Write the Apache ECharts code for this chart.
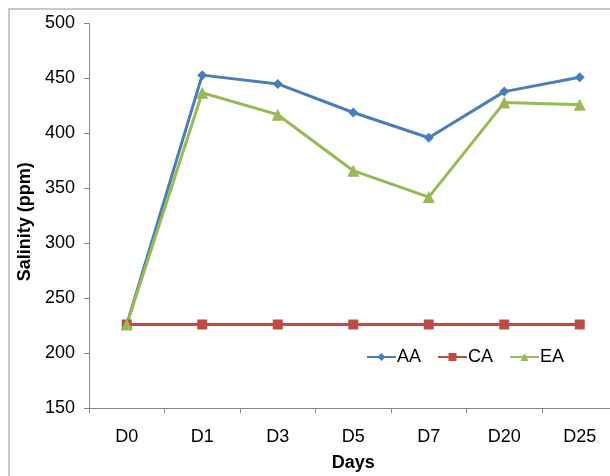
<!DOCTYPE html>
<html><head><meta charset="utf-8">
<script src="https://cdn.jsdelivr.net/npm/echarts@6/dist/echarts.min.js"></script>
<style>html,body{margin:0;padding:0;background:#fff;}#c{width:610px;height:476px;}</style>
</head><body><div id="c"></div>
<script>
const categories = ['D0','D1','D3','D5','D7','D20','D25'];
const seriesAA = [226, 453, 445, 419, 396, 438, 451];
const seriesCA = [226, 226, 226, 226, 226, 226, 226];
const seriesEA = [226, 437, 417, 366, 342, 428, 426];
const yTicks = {min: 150, max: 500, interval: 50};

const chart = echarts.init(document.getElementById('c'), null, {renderer: 'canvas'});
const font = 'Liberation Sans, Arial, sans-serif';
function mk(name, data, color, symbol, size) {
  return {name, type: 'line', data, symbol, symbolSize: size,
    lineStyle: {color, width: 3}, itemStyle: {color}, animation: false};
}
chart.setOption({
  animation: false,
  graphic: [{type: 'rect', shape: {x: 9, y: 9, width: 700, height: 600},
    style: {fill: 'none', stroke: '#b8b8b8', lineWidth: 1.5}, silent: true}],
  grid: {left: 89, top: 23.5, width: 528.5, bottom: 68, containLabel: false, outerBoundsMode: 'none'},
  legend: {left: 361, top: 343, itemWidth: 29, itemHeight: 10, itemGap: 16,
    textStyle: {fontFamily: font, fontSize: 18, color: '#000', padding: [0,0,0,-4]},
    data: ['AA','CA','EA']},
  xAxis: {type: 'category', data: categories, boundaryGap: true,
    name: 'Days', nameLocation: 'middle', nameGap: 46,
    nameTextStyle: {fontFamily: font, fontSize: 18, fontWeight: 'bold', color: '#000'},
    axisLine: {lineStyle: {color: '#868686', width: 1}},
    axisTick: {show: true, length: 5, alignWithLabel: false, lineStyle: {color: '#868686'}},
    axisLabel: {fontFamily: font, fontSize: 18, color: '#000', margin: 20},
    splitLine: {show: false}},
  yAxis: {type: 'value', min: yTicks.min, max: yTicks.max, interval: yTicks.interval,
    name: 'Salinity (ppm)', nameLocation: 'middle', nameGap: 49, nameRotate: 90,
    nameTextStyle: {fontFamily: font, fontSize: 18, fontWeight: 'bold', color: '#000', padding: [0, 12, 0, 0]},
    axisLine: {show: true, lineStyle: {color: '#868686', width: 1}},
    axisTick: {show: true, length: 5, lineStyle: {color: '#868686'}},
    axisLabel: {fontFamily: font, fontSize: 18, color: '#000', margin: 14},
    splitLine: {show: false}},
  series: [
    mk('AA', seriesAA, '#4A7EBB', 'diamond', 10),
    mk('CA', seriesCA, '#BE4B48', 'rect', 10),
    mk('EA', seriesEA, '#98B954', 'triangle', 12)
  ]
});
</script></body></html>
